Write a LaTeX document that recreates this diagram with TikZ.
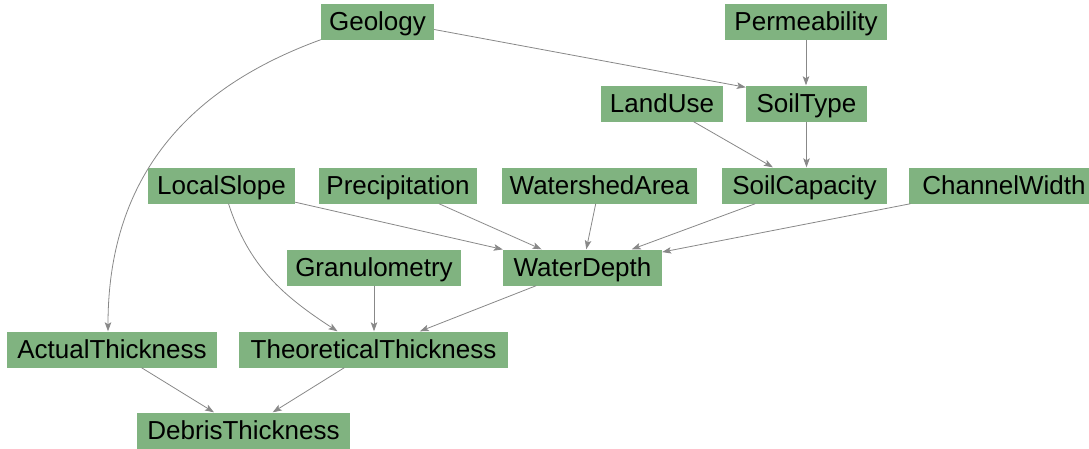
\documentclass[tikz,border=0pt]{standalone}
\usepackage{fontspec}
\setmainfont{Liberation Sans}
\usetikzlibrary{arrows.meta,calc}
\definecolor{nodegreen}{HTML}{80B380}
\definecolor{edgegray}{HTML}{888888}
\tikzset{
  var/.style={draw=none, fill=nodegreen, rectangle, inner xsep=3pt, inner ysep=6pt,
    text height=20.5pt, text depth=3.5pt, font=\fontsize{26}{30}\selectfont, text=black},
  link/.style={draw=edgegray, line width=0.8pt, -{Stealth[length=9pt,width=6.5pt,inset=2pt]}}
}
\begin{document}
\begin{tikzpicture}[x=1pt,y=-1pt]
\useasboundingbox (0,0) rectangle (1089,448);
% nodes
\node[var, minimum width=113pt] (Geology) at (377.5,21.5) {Geology};
\node[var, minimum width=162pt] (Permeability) at (806,21.5) {Permeability};
\node[var, minimum width=122pt] (LandUse) at (662,103.5) {LandUse};
\node[var, minimum width=121pt] (SoilType) at (806.5,103.5) {SoilType};
\node[var, minimum width=147pt] (LocalSlope) at (221.5,185.5) {LocalSlope};
\node[var, minimum width=158pt] (Precipitation) at (398,185.5) {Precipitation};
\node[var, minimum width=195pt] (WatershedArea) at (599.5,185.5) {WatershedArea};
\node[var, minimum width=165pt] (SoilCapacity) at (804.5,185.5) {SoilCapacity};
\node[var, minimum width=190pt] (ChannelWidth) at (1004,185.5) {ChannelWidth};
\node[var, minimum width=174pt] (Granulometry) at (374,267.5) {Granulometry};
\node[var, minimum width=159pt] (WaterDepth) at (582.5,267.5) {WaterDepth};
\node[var, minimum width=210pt] (ActualThickness) at (112,349.5) {ActualThickness};
\node[var, minimum width=269pt] (TheoreticalThickness) at (373.5,349.5) {TheoreticalThickness};
\node[var, minimum width=213pt] (DebrisThickness) at (243.5,430.5) {DebrisThickness};
% edges
\draw[link] (Geology.south west) to[out=200,in=90,looseness=1.05] ($(ActualThickness.north)+(-4,0)$);
\draw[link] ($(Geology.east)+(0,8)$) -- ($(SoilType.north west)+(0,2)$);
\draw[link] (Permeability.south) -- (Permeability.south |- SoilType.north);
\draw[link] (LandUse) -- (SoilCapacity);
\draw[link] (SoilType.south) -- (SoilType.south |- SoilCapacity.north);
\draw[link] (LocalSlope) -- (WaterDepth);
\draw[link] (Precipitation) -- (WaterDepth);
\draw[link] (WatershedArea) -- (WaterDepth);
\draw[link] (SoilCapacity) -- (WaterDepth);
\draw[link] (ChannelWidth) -- (WaterDepth);
\draw[link] ($(LocalSlope.south)+(7,0)$) to[out=-72,in=147] ($(TheoreticalThickness.north)+(-36,0)$);
\draw[link] (Granulometry.south) -- (Granulometry.south |- TheoreticalThickness.north);
\draw[link] (WaterDepth) -- (TheoreticalThickness);
\draw[link] (ActualThickness) -- (DebrisThickness);
\draw[link] (TheoreticalThickness) -- (DebrisThickness);
\end{tikzpicture}
\end{document}
